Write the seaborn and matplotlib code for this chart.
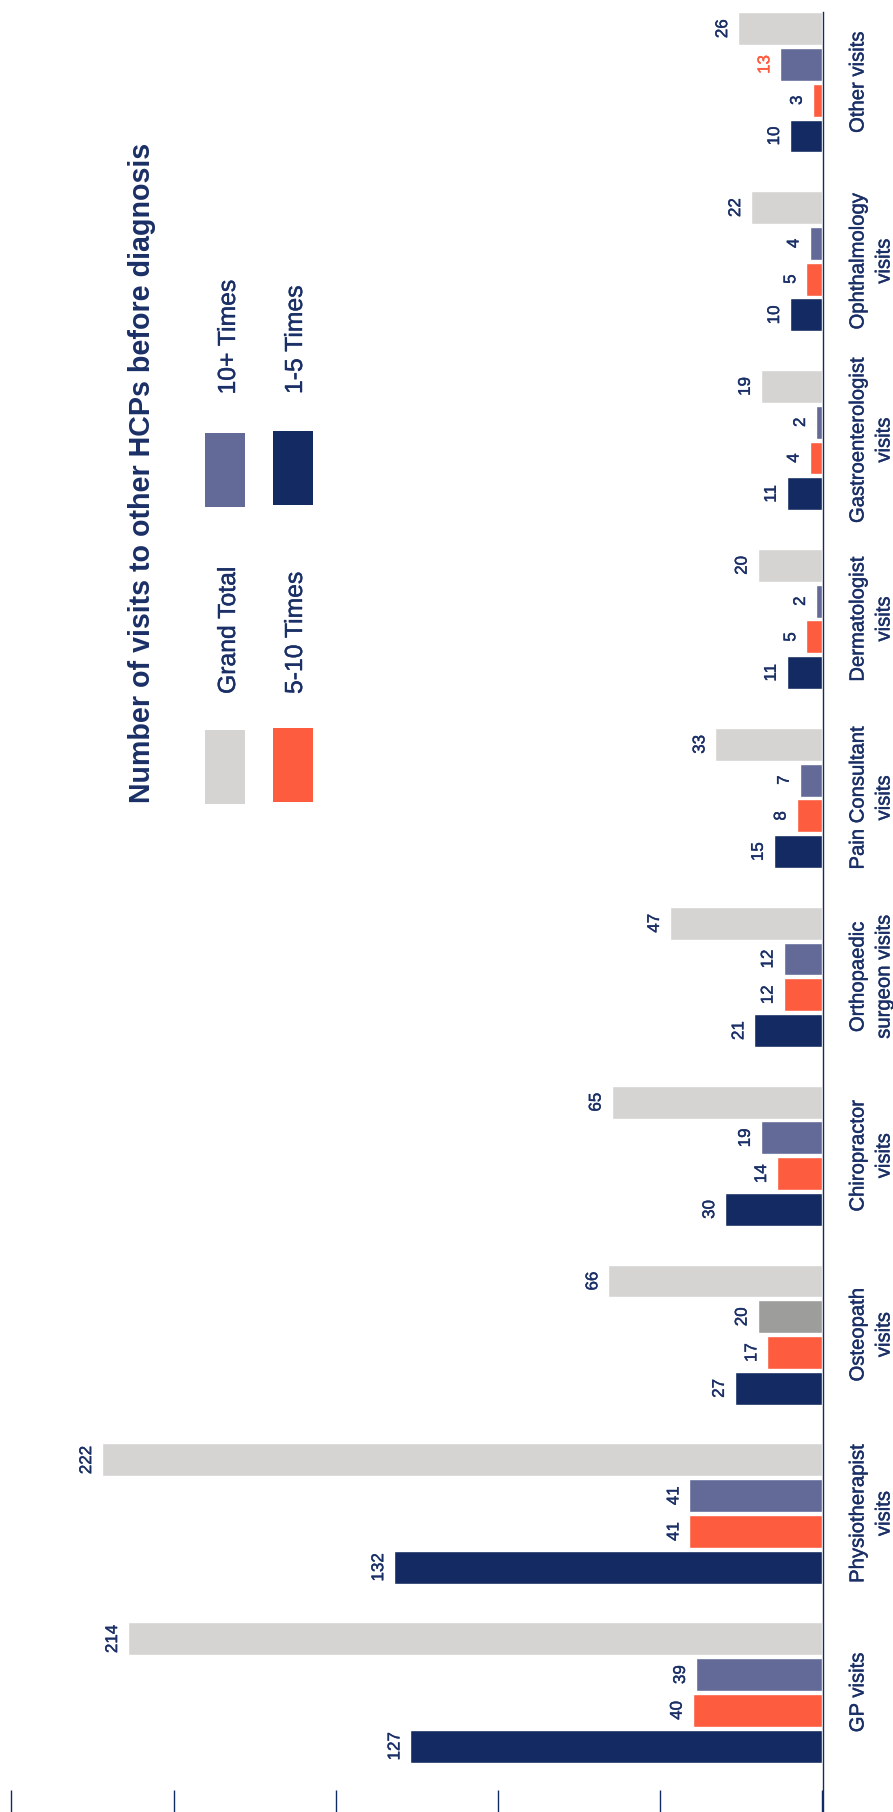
import matplotlib
matplotlib.use("Agg")
import matplotlib.pyplot as plt
import matplotlib.patheffects as pe
import pandas as pd
import seaborn as sns
from matplotlib import font_manager
from matplotlib.patches import Rectangle
from matplotlib.transforms import blended_transform_factory

# Data (categories bottom to top in the rotated view)
categories = [
    "GP visits",
    "Physiotherapist\nvisits",
    "Osteopath\nvisits",
    "Chiropractor\nvisits",
    "Orthopaedic\nsurgeon visits",
    "Pain Consultant\nvisits",
    "Dermatologist\nvisits",
    "Gastroenterologist\nvisits",
    "Ophthalmology\nvisits",
    "Other visits",
]
series = ["1-5 Times", "5-10 Times", "10+ Times", "Grand Total"]
times_1_5 = [127, 132, 27, 30, 21, 15, 11, 11, 10, 10]
times_5_10 = [40, 41, 17, 14, 12, 8, 5, 4, 5, 3]
times_10_plus = [39, 41, 20, 19, 12, 7, 2, 2, 4, 13]
grand_total = [214, 222, 66, 65, 47, 33, 20, 19, 22, 26]
x_ticks = [0, 50, 100, 150, 200, 250]
title = "Number of visits to other HCPs before diagnosis"

NAVY = "#132b62"
ORANGE = "#fd5c3e"
PURPLE = "#636a98"
GREY = "#d5d4d2"
DARK_GREY = "#9d9d9b"
TEXT = "#1a2f66"
palette = {"1-5 Times": NAVY, "5-10 Times": ORANGE, "10+ Times": PURPLE, "Grand Total": GREY}

df = pd.DataFrame({
    "category": categories * 4,
    "series": [s for s in series for _ in categories],
    "visits": times_1_5 + times_5_10 + times_10_plus + grand_total,
})

sns.set_style("white")
plt.rcParams["font.family"] = ["Liberation Sans", "DejaVu Sans"]


def has_font(name):
    try:
        font_manager.findfont(font_manager.FontProperties(family=name), fallback_to_default=False)
        return True
    except ValueError:
        return False


if has_font("Liberation Sans Narrow"):
    narrow, narrow_scale = ["Liberation Sans Narrow"], 1.0
else:
    narrow, narrow_scale = ["Liberation Sans", "DejaVu Sans"], 0.86


def heavier(color):
    # the original face is a touch heavier than Liberation Sans
    return [pe.withStroke(linewidth=0.3, foreground=color)]


W, H = 893, 1812
fig = plt.figure(figsize=(W / 100, H / 100), dpi=100)
ax = fig.add_axes([0, 0, 822.5 / W, (H - 12) / H])

sns.barplot(
    data=df, x="visits", y="category", hue="series",
    order=categories, hue_order=series, palette=palette,
    orient="h", width=0.8, gap=0.08, saturation=1,
    legend=False, ax=ax,
)

# the chart is drawn turned a quarter: values grow to the left
ax.set_xlim(822.5 / 3.245, 0)
ax.set_ylim(-0.668, 9.393)
ax.set_xlabel("")
ax.set_ylabel("")
ax.set_yticks([])
ax.set_xticks(x_ticks)
ax.set_xticklabels([])
ax.tick_params(axis="x", direction="in", length=15.8, width=1.0, color=NAVY, bottom=True)
for side in ["left", "top", "bottom"]:
    ax.spines[side].set_visible(False)
ax.spines["right"].set_color(NAVY)
ax.spines["right"].set_linewidth(1.0)

# odd grey bar for Osteopath 10+ in the original
ax.containers[series.index("10+ Times")][categories.index("Osteopath\nvisits")].set_facecolor(DARK_GREY)

# value labels
pad = 11 / 3.245
for s, cont in zip(series, ax.containers):
    for cat, bar in zip(categories, cont):
        v = bar.get_width()
        col = ORANGE if (s == "10+ Times" and cat == "Other visits") else TEXT
        ax.text(v + pad, bar.get_y() + bar.get_height() / 2, f"{v:.0f}",
                rotation=90, rotation_mode="anchor", ha="center", va="baseline",
                fontsize=14.2 * narrow_scale, family=narrow, color=col,
                path_effects=heavier(col))

# category labels to the right of the baseline
trans = blended_transform_factory(fig.transFigure, ax.transData)
for i, cat in enumerate(categories):
    for j, line in enumerate(cat.split("\n")):
        ax.text((863.5 + 26 * j) / W, i, line, transform=trans,
                rotation=90, rotation_mode="anchor", ha="center", va="baseline",
                fontsize=14.6, color=TEXT, clip_on=False, path_effects=heavier(TEXT))


def fx(px):
    return px / W


def fy(py):
    return 1 - py / H


# title and legend, also turned
fig.text(fx(150), fy(803), title, rotation=90, rotation_mode="anchor",
         ha="left", va="baseline", fontsize=20.6, fontweight="bold", color=TEXT)

legend_spots = {
    "Grand Total": (205, 730, 235, 694),
    "10+ Times": (205, 433, 235, 394.5),
    "5-10 Times": (273, 728, 302, 694),
    "1-5 Times": (273, 431, 302, 394),
}
for s in series:
    bx, by, tx, ty = legend_spots[s]
    fig.add_artist(Rectangle((fx(bx), fy(by + 74)), 40 / W, 74 / H,
                             transform=fig.transFigure, color=palette[s], lw=0))
    fig.text(fx(tx), fy(ty), s, rotation=90, rotation_mode="anchor",
             ha="left", va="baseline", fontsize=20.7 * narrow_scale, family=narrow,
             color=TEXT, path_effects=heavier(TEXT))

fig.savefig("out.png", dpi=100, facecolor="white")
